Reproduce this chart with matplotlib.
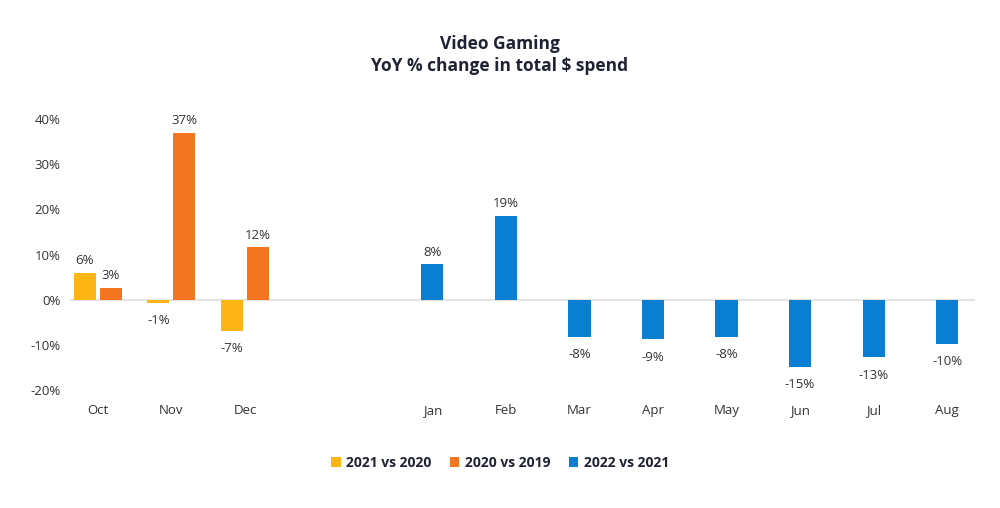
import numpy as np
import matplotlib.pyplot as plt

plt.rcParams['font.family'] = ['Open Sans', 'DejaVu Sans']

# data
months_early = ["Oct", "Nov", "Dec"]
yoy_2021_vs_2020 = [6.0, -0.7, -7.0]
yoy_2020_vs_2019 = [2.6, 37.0, 11.6]

months_late = ["Jan", "Feb", "Mar", "Apr", "May", "Jun", "Jul", "Aug"]
yoy_2022_vs_2021 = [7.8, 18.6, -8.2, -8.8, -8.3, -14.8, -12.8, -9.8]

yticks = [-20, -10, 0, 10, 20, 30, 40]

c_yellow = "#FDB515"
c_orange = "#F37521"
c_blue = "#0A7FD2"
txt = "#333333"

fig = plt.figure(figsize=(10, 5.08), dpi=100)
ax = fig.add_axes([0.07, 0.2323, 0.905, 0.5334])

x_early = np.arange(len(months_early))
x_late = 4.55 + np.arange(len(months_late))
w = 0.30
off = 0.177


def label_bars(ax, xs, vals):
    for x, v in zip(xs, vals):
        va = "bottom" if v >= 0 else "top"
        dy = 4 if v >= 0 else -8
        ax.annotate(f"{round(v):d}%", (x, v), xytext=(0, dy), textcoords="offset points",
                    ha="center", va=va, fontsize=9.5, color=txt)


ax.axhline(0, color="#e3e3e3", linewidth=1.5, zorder=1)
ax.bar(x_early - off, yoy_2021_vs_2020, w, color=c_yellow, label="2021 vs 2020", zorder=2)
ax.bar(x_early + off, yoy_2020_vs_2019, w, color=c_orange, label="2020 vs 2019", zorder=2)
ax.bar(x_late, yoy_2022_vs_2021, w, color=c_blue, label="2022 vs 2021", zorder=2)

label_bars(ax, x_early - off, yoy_2021_vs_2020)
label_bars(ax, x_early + off, yoy_2020_vs_2019)
label_bars(ax, x_late, yoy_2022_vs_2021)

ax.set_xlim(-0.38, 11.93)
ax.set_ylim(-20, 40)
ax.set_yticks(yticks)
ax.set_yticklabels([f"{t}%" for t in yticks])
ax.set_xticks(list(x_early) + list(x_late))
ax.set_xticklabels(months_early + months_late)
ax.tick_params(axis="both", length=0, labelsize=9.5, labelcolor=txt)
ax.tick_params(axis="x", pad=10)
ax.tick_params(axis="y", pad=7)
for s in ax.spines.values():
    s.set_visible(False)

fig.text(0.5, 1 - 44 / 508, "Video Gaming", ha="center", va="center",
         fontsize=12.5, fontweight="bold", color="#1f2233")
fig.text(0.5, 1 - 66 / 508, "YoY % change in total \\$ spend", ha="center", va="center",
         fontsize=12.5, fontweight="bold", color="#1f2233")

fig.legend(loc="center", bbox_to_anchor=(0.5, 1 - 463 / 508), ncol=3, frameon=False,
           prop={"weight": "bold", "size": 10}, handlelength=0.7, handleheight=0.7,
           handletextpad=0.4, columnspacing=1.3, labelcolor="#1f2233")

fig.savefig("out.png", dpi=100)
